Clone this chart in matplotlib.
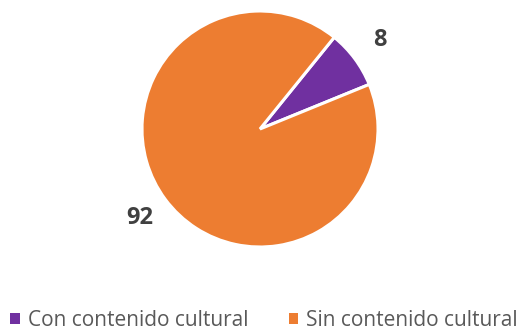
import matplotlib
matplotlib.use("Agg")
import matplotlib.pyplot as plt

categories = ["Con contenido cultural", "Sin contenido cultural"]
values = [8, 92]
colors = ["#7030A0", "#ED7D31"]

W, H = 525, 330
fig = plt.figure(figsize=(W / 100, H / 100), dpi=100)
ax = fig.add_axes([0, 0, 1, 1])

wedges, _, autotexts = ax.pie(
    values,
    colors=colors,
    center=(260, H - 129),
    radius=118,
    startangle=51,
    counterclock=False,
    autopct=lambda p: f"{p:.0f}",
    pctdistance=1.27,
    wedgeprops=dict(edgecolor="white", linewidth=2.2),
    textprops=dict(fontsize=17, fontweight="bold", color="#404040", family="Open Sans"),
)

ax.set_xlim(0, W)
ax.set_ylim(0, H)
ax.set_aspect("equal")
ax.axis("off")

leg = ax.legend(
    wedges,
    categories,
    loc="center",
    bbox_to_anchor=(264 / W, 9.5 / H),
    bbox_transform=fig.transFigure,
    ncol=2,
    frameon=False,
    borderpad=0,
    handlelength=0.45,
    handleheight=0.45,
    handletextpad=0.38,
    columnspacing=1.95,
    prop=dict(family="Open Sans", size=15),
    labelcolor="#595959",
)
for h in leg.legend_handles:
    h.set_edgecolor("none")

fig.savefig("out.png", dpi=100)
